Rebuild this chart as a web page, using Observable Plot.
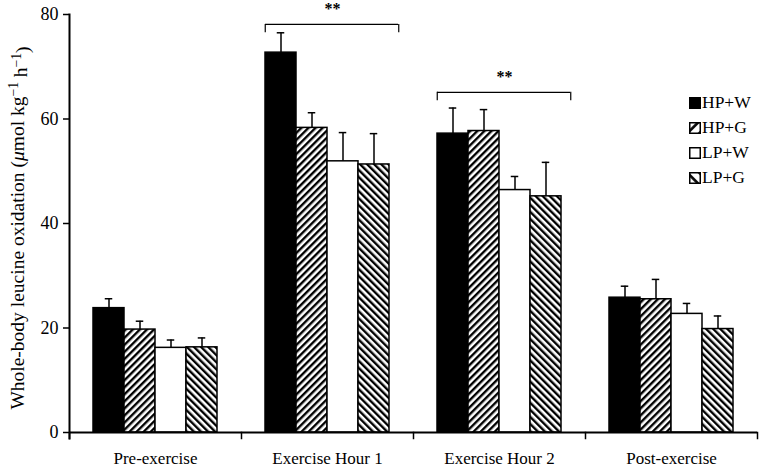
<!DOCTYPE html>
<html><head><meta charset="utf-8">
<script src="https://cdn.jsdelivr.net/npm/d3@7"></script>
<script src="https://cdn.jsdelivr.net/npm/@observablehq/plot@0.6"></script>
<style>
body{margin:0;background:#fff;}
#wrap{position:relative;width:763px;height:469px;}
#legend{position:absolute;left:689px;top:90px;font-family:"Liberation Serif",serif;font-size:17.5px;color:#000;}
.row{display:flex;align-items:center;height:25px;}
.row svg{margin-right:1px;}
</style></head><body>
<svg width="0" height="0" style="position:absolute">
<defs>
<pattern id="hatchUp" patternUnits="userSpaceOnUse" width="5" height="5" patternTransform="rotate(45)">
<rect width="5" height="5" fill="white"/><rect width="2.4" height="5" fill="black"/></pattern>
<pattern id="hatchDown" patternUnits="userSpaceOnUse" width="5" height="5" patternTransform="rotate(-45)">
<rect width="5" height="5" fill="white"/><rect width="2.4" height="5" fill="black"/></pattern>
<pattern id="legUp" patternUnits="userSpaceOnUse" width="8.5" height="8.5" patternTransform="rotate(45 6 6)">
<rect width="8.5" height="8.5" fill="white"/><rect x="3" width="2.6" height="8.5" fill="black"/></pattern>
<pattern id="legDown" patternUnits="userSpaceOnUse" width="8.5" height="8.5" patternTransform="rotate(-45 6 6)">
<rect width="8.5" height="8.5" fill="white"/><rect x="3" width="2.6" height="8.5" fill="black"/></pattern>
</defs></svg>
<div id="wrap"><div id="legend"></div></div>
<script>
// ---- data ----
const groups = ["Pre-exercise", "Exercise Hour 1", "Exercise Hour 2", "Post-exercise"];
const treatments = ["HP+W", "HP+G", "LP+W", "LP+G"];
const meanHPW = [23.8, 72.7, 57.2, 25.8];
const meanHPG = [19.7, 58.3, 57.7, 25.5];
const meanLPW = [16.2, 51.9, 46.4, 22.7];
const meanLPG = [16.3, 51.3, 45.2, 19.8];
const seHPW = [1.8, 3.8, 4.9, 2.2];
const seHPG = [1.6, 2.9, 4.1, 3.8];
const seLPW = [1.5, 5.5, 2.6, 2.0];
const seLPG = [1.8, 5.9, 6.5, 2.5];
const yTicks = [0, 20, 40, 60, 80];
const sigGroups = ["Exercise Hour 1", "Exercise Hour 2"];
const sigLevels = [78.1, 65.1];
const sigLabels = ["**", "**"];

// ---- styles ----
const barFills = ["black", "url(#hatchUp)", "white", "url(#hatchDown)"];
const legendFills = ["black", "url(#legUp)", "white", "url(#legDown)"];

const meanSeries = [meanHPW, meanHPG, meanLPW, meanLPG];
const seSeries = [seHPW, seHPG, seLPW, seLPG];
const data = groups.flatMap((g, i) => treatments.map((t, j) => ({
  group: g, treatment: t, value: meanSeries[j][i], se: seSeries[j][i]
})));
const sig = sigGroups.map((g, i) => ({group: g, y: sigLevels[i], label: sigLabels[i]}));

const W = 763, H = 469, mt = 14, mb = 37, ml = 68, mr = 6;
const plotH = H - mt - mb;
const facetW = (W - ml - mr) / groups.length;
const xPad = 0.734;
const bw = facetW / (treatments.length + 2 * xPad);
const capHalf = 4;

const chart = Plot.plot({
  width: W, height: H,
  marginTop: mt, marginBottom: mb, marginLeft: ml, marginRight: mr,
  style: {fontFamily: "Liberation Serif, serif", fontSize: "17px", color: "black", background: "white", overflow: "visible"},
  fx: {domain: groups, padding: 0, label: null},
  x: {domain: treatments, paddingInner: 0, paddingOuter: xPad, axis: null},
  y: {domain: [0, 80], label: null},
  color: {type: "ordinal", domain: treatments, range: barFills},
  marks: [
    Plot.axisFx({anchor: "bottom", tickSize: 0, tickPadding: 19, fontSize: 17, label: null}),
    Plot.axisY({ticks: yTicks, tickSize: 6, tickPadding: 5, fontSize: 18, strokeWidth: 1.5, label: null}),
    Plot.barY(data, {fx: "group", x: "treatment", y: "value", fill: "treatment", stroke: "black", strokeWidth: 1.5}),
    Plot.ruleX(data, {fx: "group", x: "treatment", y1: "value", y2: d => d.value + d.se, strokeWidth: 1.5}),
    Plot.tickY(data, {fx: "group", x: "treatment", y: d => d.value + d.se, insetLeft: bw / 2 - capHalf, insetRight: bw / 2 - capHalf, strokeWidth: 1.5}),
    Plot.ruleY([0], {strokeWidth: 2}),
    Plot.frame({anchor: "left", facetAnchor: "left", strokeWidth: 2, insetBottom: -6}),
    Plot.frame({anchor: "left", insetTop: plotH, insetBottom: -6, strokeWidth: 1.5}),
    Plot.frame({anchor: "right", facetAnchor: "right", insetTop: plotH, insetBottom: -6, strokeWidth: 1.5}),
    Plot.ruleY(sig, {fx: "group", y: "y", x1: () => treatments[0], x2: () => treatments[treatments.length - 1], insetRight: -9, strokeWidth: 1.2}),
    Plot.ruleX(sig, {fx: "group", x: () => treatments[0], y1: d => d.y - 1.6, y2: "y", dx: -bw / 2, strokeWidth: 1.2}),
    Plot.ruleX(sig, {fx: "group", x: () => treatments[treatments.length - 1], y1: d => d.y - 1.6, y2: "y", dx: bw / 2 + 9, strokeWidth: 1.2}),
    Plot.text(sig, {fx: "group", y: "y", text: "label", dy: -10, dx: 5, fontSize: 16, fontWeight: "bold", lineAnchor: "bottom"})
  ]
});

// y-axis title with italic mu and superscripts
const svg = d3.select(chart);
const t = svg.append("text")
  .attr("transform", "translate(24,228) rotate(-90)")
  .attr("text-anchor", "middle")
  .attr("font-size", 19.5)
  .attr("fill", "black");
t.append("tspan").text("Whole-body leucine oxidation (");
t.append("tspan").attr("font-style", "italic").text("μ");
t.append("tspan").text("mol kg");
t.append("tspan").attr("dy", "-0.45em").attr("font-size", "0.7em").text("−1");
t.append("tspan").attr("dy", "0.45em").text(" h");
t.append("tspan").attr("dy", "-0.45em").attr("font-size", "0.7em").text("−1");
t.append("tspan").attr("dy", "0.45em").text(")");

document.getElementById("wrap").prepend(chart);

// legend
const legend = d3.select("#legend");
treatments.forEach((tr, i) => {
  const row = legend.append("div").attr("class", "row");
  const s = row.append("svg").attr("width", 12).attr("height", 12);
  s.append("rect").attr("x", 0.75).attr("y", 0.75).attr("width", 10.5).attr("height", 10.5)
    .attr("fill", legendFills[i]).attr("stroke", "black").attr("stroke-width", 1.5);
  row.append("span").text(tr);
});
</script>
</body></html>
